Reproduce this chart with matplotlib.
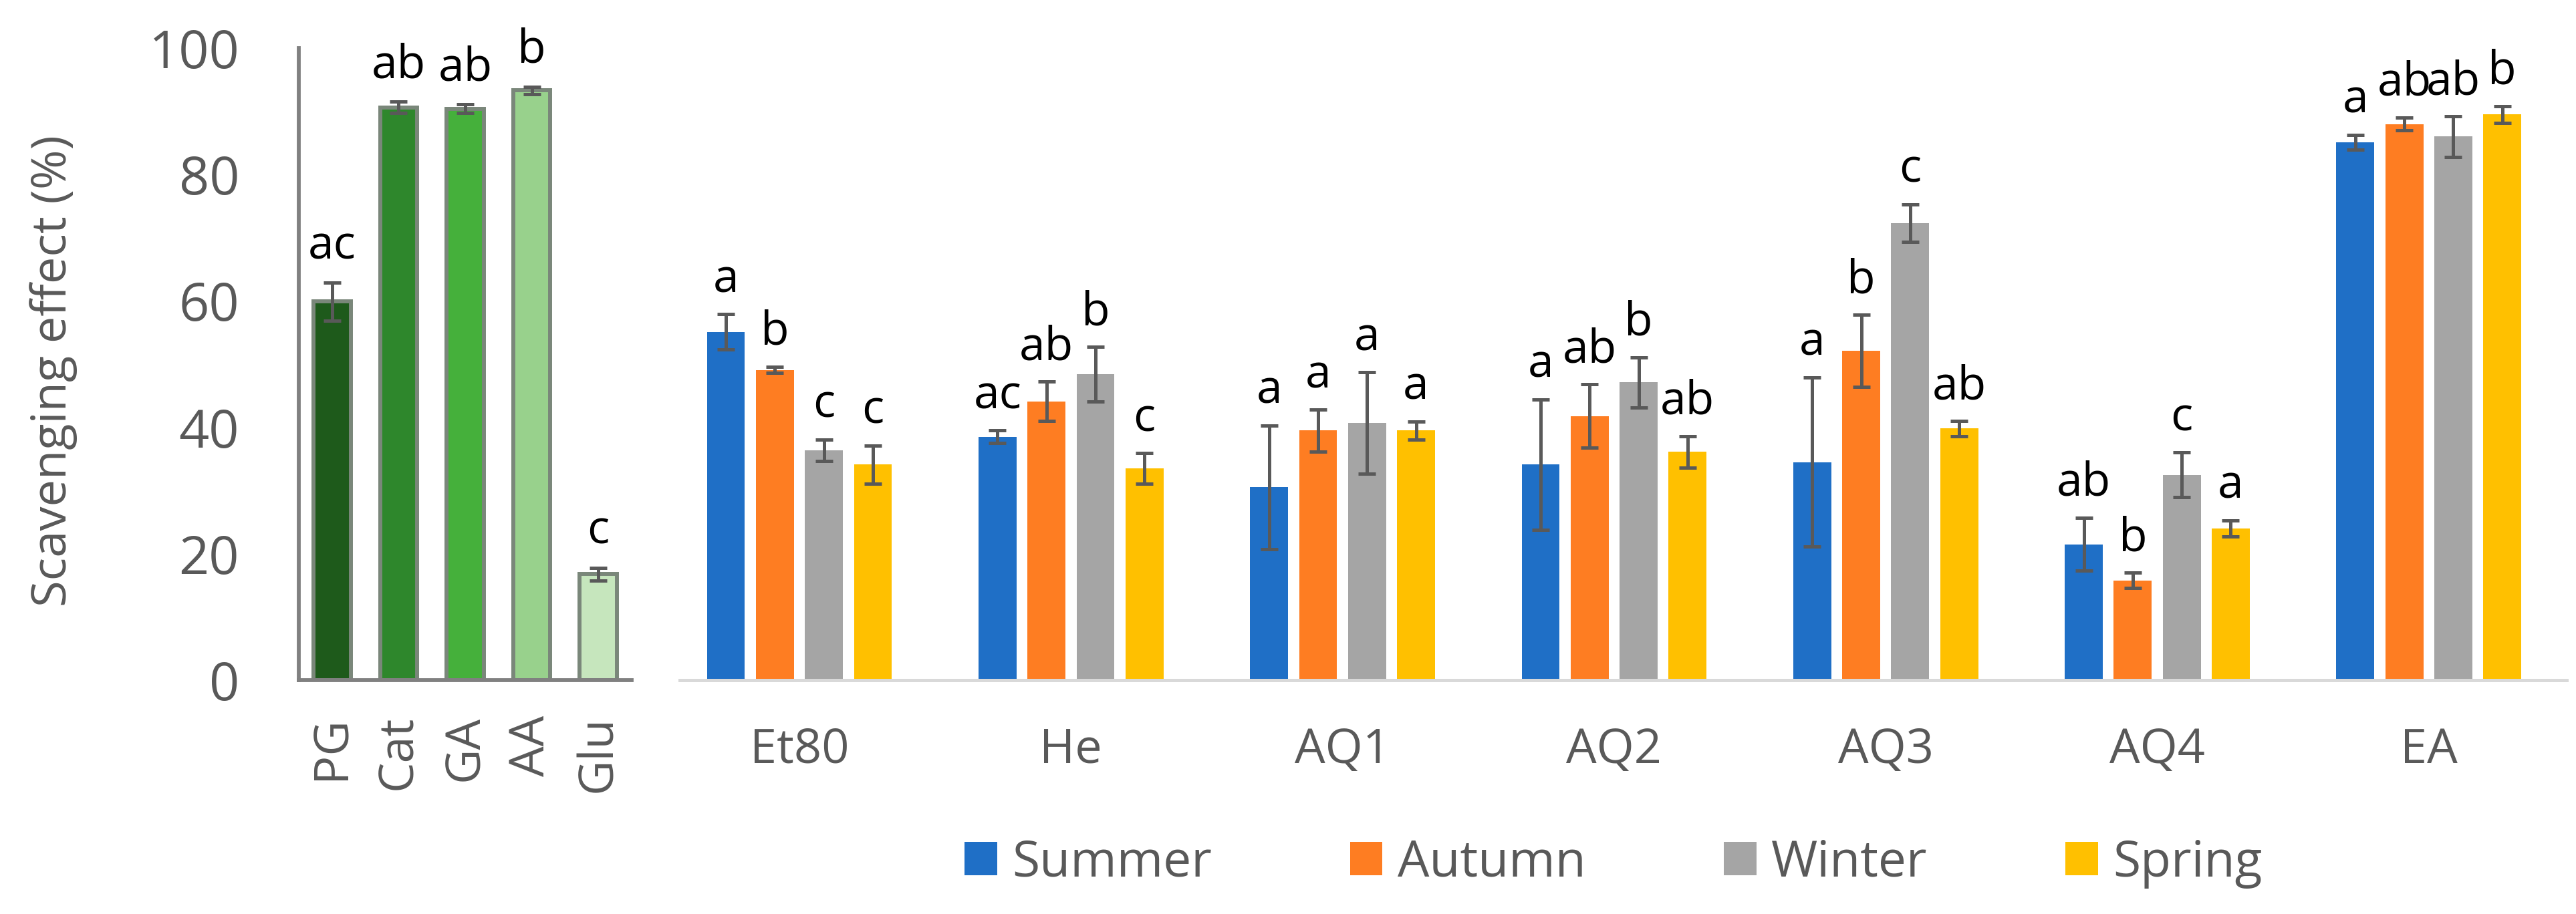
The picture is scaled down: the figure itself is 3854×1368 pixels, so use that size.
import matplotlib
matplotlib.use('Agg')
import matplotlib.pyplot as plt
import numpy as np
from matplotlib.patches import Patch

plt.rcParams['font.family'] = ['Open Sans', 'DejaVu Sans']

# ---------------- data ----------------
std_names = ['PG', 'Cat', 'GA', 'AA', 'Glu']
std_vals = [59.9, 90.6, 90.4, 93.3, 16.8]
std_err = [3.0, 0.9, 0.7, 0.6, 1.0]
std_letters = ['ac', 'ab', 'ab', 'b', 'c']
std_colors = ['#1e5a1b', '#2e872c', '#45b03b', '#98d18c', '#c6e6bd']

extracts = ['Et80', 'He', 'AQ1', 'AQ2', 'AQ3', 'AQ4', 'EA']
seasons = ['Summer', 'Autumn', 'Winter', 'Spring']
season_colors = ['#1f6fc6', '#fe7d22', '#a5a5a5', '#ffc000']

summer = [55.1, 38.5, 30.5, 34.1, 34.5, 21.5, 85.1]
summer_err = [2.8, 1.0, 9.8, 10.3, 13.4, 4.2, 1.2]
autumn = [49.1, 44.1, 39.5, 41.8, 52.1, 15.8, 88.0]
autumn_err = [0.5, 3.1, 3.3, 5.0, 5.7, 1.2, 1.0]
winter = [36.4, 48.4, 40.7, 47.1, 72.3, 32.5, 86.0]
winter_err = [1.7, 4.3, 8.0, 4.0, 3.0, 3.5, 3.2]
spring = [34.1, 33.5, 39.5, 36.1, 39.8, 24.0, 89.5]
spring_err = [3.0, 2.4, 1.4, 2.5, 1.2, 1.3, 1.3]

letters_summer = ['a', 'ac', 'a', 'a', 'a', 'ab', 'a']
letters_autumn = ['b', 'ab', 'a', 'ab', 'b', 'b', 'ab']
letters_winter = ['c', 'b', 'a', 'b', 'c', 'c', 'ab']
letters_spring = ['c', 'c', 'a', 'ab', 'ab', 'a', 'b']

y_ticks = [0, 20, 40, 60, 80, 100]
y_label = 'Scavenging effect (%)'

# ---------------- styles ----------------
W, H = 3855, 1368
DPI = 100
tick_gray = '#595959'
err_color = '#595959'

fig = plt.figure(figsize=(W / DPI, H / DPI), dpi=DPI)

def frac_box(x0, x1, ytop, ybot):
    return [x0 / W, 1 - ybot / H, (x1 - x0) / W, (ybot - ytop) / H]

# ---------------- left panel (standards) ----------------
axL = fig.add_axes(frac_box(447, 945, 72, 1018))
xs = np.arange(len(std_names))
axL.bar(xs, std_vals, width=0.56, color=std_colors, edgecolor='#7a877a',
        linewidth=4.3, zorder=2)
axL.errorbar(xs, std_vals, yerr=std_err, fmt='none', ecolor=err_color,
             elinewidth=3.6, capsize=9.7, capthick=3.6, zorder=3)
for x, v, e, t in zip(xs, std_vals, std_err, std_letters):
    axL.text(x, v + e + 3.8, t, ha='center', va='baseline', fontsize=50,
             color='black')
axL.set_xlim(-0.5, len(std_names) - 0.5)
axL.set_ylim(0, 100)
axL.set_yticks(y_ticks)
axL.set_yticklabels([str(t) for t in y_ticks])
axL.set_xticks(xs)
axL.set_xticklabels(std_names, rotation=90)
axL.tick_params(axis='y', length=0, pad=64, labelsize=57, labelcolor=tick_gray)
axL.tick_params(axis='x', length=0, pad=38, labelsize=52, labelcolor=tick_gray)
for s in ['top', 'right']:
    axL.spines[s].set_visible(False)
for s in ['left', 'bottom']:
    axL.spines[s].set_color('#808080')
    axL.spines[s].set_linewidth(4.2)
axL.patch.set_alpha(0)

# ---------------- right panel (extracts by season) ----------------
spacing_px = 406.3
x0_px, x1_px = 1017, 3840
first_center_px = 1196
lo = -(first_center_px - x0_px) / spacing_px
hi = lo + (x1_px - x0_px) / spacing_px
axR = fig.add_axes(frac_box(x0_px, x1_px, 72, 1018))
xg = np.arange(len(extracts))
series = [summer, autumn, winter, spring]
series_err = [summer_err, autumn_err, winter_err, spring_err]
series_letters = [letters_summer, letters_autumn, letters_winter, letters_spring]
step = 0.1804
bw = 0.140
for i, (vals, errs, lets, col, name) in enumerate(
        zip(series, series_err, series_letters, season_colors, seasons)):
    pos = xg + (i - 1.5) * step
    axR.bar(pos, vals, width=bw, color=col, label=name, zorder=2)
    axR.errorbar(pos, vals, yerr=errs, fmt='none', ecolor=err_color,
                 elinewidth=3.6, capsize=9.7, capthick=3.6, zorder=3)
    for x, v, e, t in zip(pos, vals, errs, lets):
        axR.text(x, v + e + 3.5, t, ha='center', va='baseline', fontsize=50,
                 color='black')
axR.set_xlim(lo, hi)
axR.set_ylim(0, 100)
axR.set_yticks([])
axR.set_xticks(xg)
axR.set_xticklabels(extracts)
axR.tick_params(axis='x', length=0, pad=50, labelsize=52, labelcolor=tick_gray)
for s in ['top', 'right', 'left']:
    axR.spines[s].set_visible(False)
axR.spines['bottom'].set_color('#d9d9d9')
axR.spines['bottom'].set_linewidth(3.6)
axR.patch.set_alpha(0)

# ---------------- y label ----------------
fig.text(80 / W, 1 - 555 / H, y_label, rotation=90, ha='center', va='center',
         fontsize=52, color=tick_gray)

# ---------------- legend ----------------
handles = [Patch(facecolor=c, edgecolor='none') for c in season_colors]
fig.legend(handles, seasons, loc='center', bbox_to_anchor=(2414 / W, 1 - 1292 / H),
           ncol=4, frameon=False, fontsize=54, labelcolor=tick_gray,
           handlelength=0.65, handleheight=0.65, handletextpad=0.3,
           columnspacing=2.75)

fig.savefig('out.png', dpi=DPI)
